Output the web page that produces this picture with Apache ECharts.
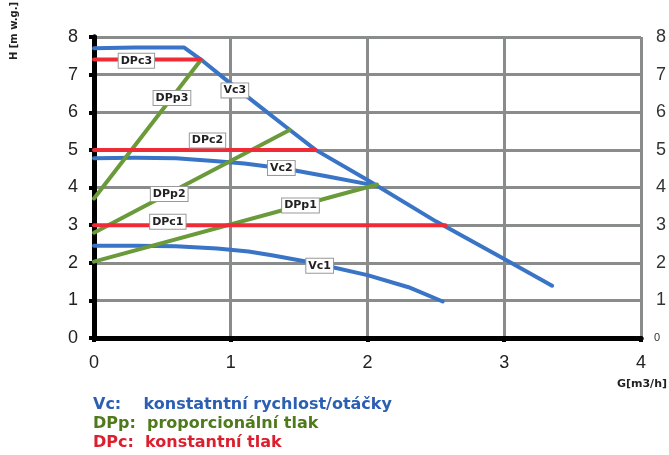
<!DOCTYPE html>
<html><head><meta charset="utf-8">
<script src="https://cdn.jsdelivr.net/npm/echarts@6/dist/echarts.min.js"></script>
<style>html,body{margin:0;padding:0;background:#fff}#c{width:669px;height:455px}</style>
</head><body><div id="c"></div>
<script>
// Curves: [G, H] pairs
const vc1 = [[0,2.45],[0.3,2.45],[0.6,2.44],[0.9,2.38],[1.13,2.3],[1.3,2.2],[1.6,2.0],[2.0,1.67],[2.3,1.35],[2.55,0.97]];
const vc2 = [[0,4.78],[0.3,4.79],[0.6,4.78],[0.9,4.7],[1.1,4.64],[1.4,4.5],[1.7,4.3],[2.06,4.05]];
const vc3 = [[0,7.7],[0.3,7.72],[0.66,7.72],[0.8,7.35],[1.0,6.76],[1.2,6.19],[1.4,5.62],[1.62,5.0],[2.0,4.2],[2.5,3.1],[3.0,2.1],[3.35,1.39]];
const dpp1 = [[0,2.03],[2.07,4.08]];
const dpp2 = [[0,2.8],[1.43,5.53]];
const dpp3 = [[0,3.71],[0.78,7.38]];
const dpc1 = [[0,3.0],[2.57,3.0]];
const dpc2 = [[0,5.0],[1.62,5.0]];
const dpc3 = [[0,7.4],[0.78,7.4]];
// Curve tag names and where the tag sits (data units)
const tagNames = ['Vc1','Vc2','Vc3','DPp1','DPp2','DPp3','DPc1','DPc2','DPc3'];
const tagAt = [[1.65,1.92],[1.37,4.52],[1.03,6.58],[1.51,3.52],[0.55,3.83],[0.57,6.38],[0.54,3.09],[0.83,5.25],[0.31,7.37]];
const xTicks = [0,1,2,3,4];
const yTicks = [0,1,2,3,4,5,6,7,8];
const legendLines = ['Vc:    konstatntní rychlost/otáčky','DPp:  proporcionální tlak','DPc:  konstantní tlak'];

const BLUE='#3a74c6', GREEN='#6a9a3a', RED='#ee2b36';
const curves = [
  [vc1,BLUE],[vc2,BLUE],[vc3,BLUE],
  [dpp1,GREEN],[dpp2,GREEN],[dpp3,GREEN],
  [dpc1,RED],[dpc2,RED],[dpc3,RED]
];
const chart = echarts.init(document.getElementById('c'));
const series = curves.map(([d,c],i)=>({
  type:'line', data:d, showSymbol:false, symbol:'none', smooth:false, z:3,
  lineStyle:{color:c,width:4,cap:'round',join:'round'},
  markPoint:{
    symbol:'rect', symbolSize:0, silent:true,
    data:[{coord:tagAt[i], value:tagNames[i]}],
    label:{show:true, formatter:tagNames[i], color:'#222', fontFamily:'DejaVu Sans', fontWeight:'bold', fontSize:11,
      backgroundColor:'#fff', borderColor:'#999', borderWidth:1, padding:[2,2,1,2]}
  }
}));
chart.setOption({
  animation:false,
  grid:{left:94, right:26, top:37, bottom:117},
  xAxis:[{
    type:'value', min:0, max:4, interval:1,
    axisLine:{show:true,onZero:false,lineStyle:{color:'#000',width:5}},
    axisTick:{show:true,length:4,lineStyle:{color:'#000',width:4}},
    axisLabel:{fontSize:18,color:'#222',fontFamily:'Liberation Sans',margin:16},
    splitLine:{show:true,lineStyle:{color:'#8a8c8c',width:3}}
  },{
    type:'value', min:0, max:4, position:'top',
    axisLine:{show:true,lineStyle:{color:'#000',width:5}},
    axisTick:{show:false}, axisLabel:{show:false}, splitLine:{show:false}
  }],
  yAxis:[{
    type:'value', min:0, max:8, interval:1,
    axisLine:{show:true,onZero:false,lineStyle:{color:'#000',width:5}},
    axisTick:{show:true,length:5,lineStyle:{color:'#000',width:4}},
    axisLabel:{fontSize:18,color:'#222',fontFamily:'Liberation Sans',margin:16},
    splitLine:{show:true,lineStyle:{color:'#8a8c8c',width:3}}
  },{
    type:'value', min:0, max:8, interval:1, position:'right',
    axisLine:{show:true,lineStyle:{color:'#000',width:5}},
    axisTick:{show:false},
    axisLabel:{fontSize:18,color:'#333',fontFamily:'Liberation Sans',margin:15,
      formatter:v=> v===0 ? '{s|0}' : String(v),
      rich:{s:{fontSize:11,color:'#333',fontFamily:'Liberation Sans',padding:[0,0,0,-2]}}},
    splitLine:{show:false}
  }],
  series:series,
  graphic:[
    {type:'text', x:14, y:31, rotation:Math.PI/2, style:{text:'H [m w.g.]', font:'bold 10px "DejaVu Sans"', fill:'#222', textAlign:'center', textVerticalAlign:'middle'}},
    {type:'text', x:667, y:384, style:{text:'G[m3/h]', font:'bold 11px "DejaVu Sans"', fill:'#222', textAlign:'right', textVerticalAlign:'middle'}},
    {type:'text', x:93, y:405, style:{text:legendLines[0], font:'bold 16px "DejaVu Sans"', fill:'#2b5fb4', textVerticalAlign:'middle'}},
    {type:'text', x:93, y:424, style:{text:legendLines[1], font:'bold 16px "DejaVu Sans"', fill:'#4f7a1c', textVerticalAlign:'middle'}},
    {type:'text', x:93, y:442.5, style:{text:legendLines[2], font:'bold 16px "DejaVu Sans"', fill:'#dc1f2e', textVerticalAlign:'middle'}}
  ]
});
</script></body></html>
